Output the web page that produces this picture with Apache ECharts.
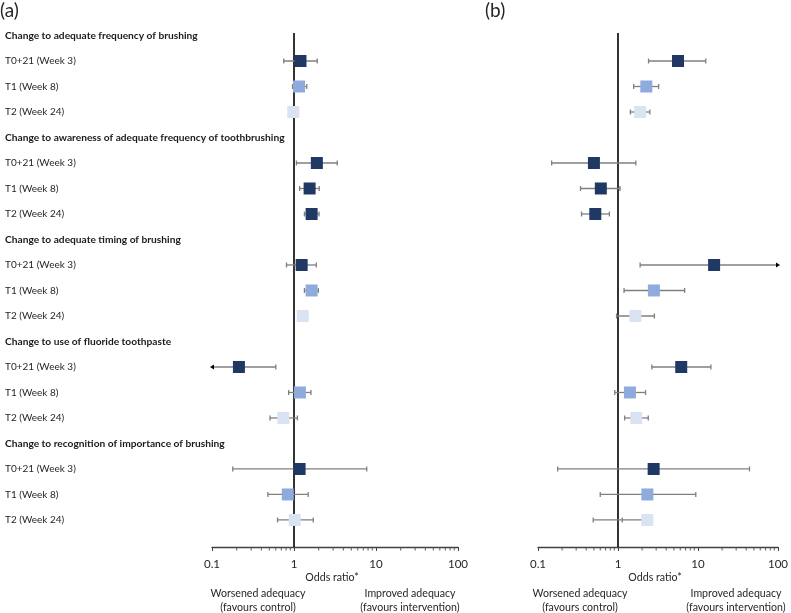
<!DOCTYPE html>
<html>
<head>
<meta charset="utf-8">
<script src="https://cdn.jsdelivr.net/npm/echarts@6/dist/echarts.min.js"></script>
<style>
html,body{margin:0;padding:0;background:#fff;}
#chart{width:791px;height:613px;}
</style>
</head>
<body>
<div id="chart"></div>
<script>
// ---------------- data ----------------
var outcomes = [
  'Change to adequate frequency of brushing',
  'Change to awareness of adequate frequency of toothbrushing',
  'Change to adequate timing of brushing',
  'Change to use of fluoride toothpaste',
  'Change to recognition of importance of brushing'
];
var timepoints = ['T0+21 (Week 3)', 'T1 (Week 8)', 'T2 (Week 24)'];

// panel (a): odds ratios and 95% CI, order = outcome x timepoint
var orA = [1.20, 1.15, 0.98,  1.90, 1.55, 1.64,  1.24, 1.64, 1.28,  0.213, 1.18, 0.74,  1.17, 0.84, 1.02];
var loA = [0.75, 0.96, 0.90,  1.07, 1.17, 1.34,  0.81, 1.34, 1.20,  0.10,  0.86, 0.51,  0.179, 0.48, 0.63];
var hiA = [1.92, 1.43, 1.06,  3.37, 2.03, 2.02,  1.87, 1.98, 1.36,  0.60,  1.61, 1.10,  7.71, 1.49, 1.72];
var arrowA = [0,0,0, 0,0,0, 0,0,0, -1,0,0, 0,0,0];

// panel (b)
var orB = [5.62, 2.26, 1.90,  0.50, 0.61, 0.52,  15.9, 2.81, 1.65,  6.17, 1.41, 1.69,  2.79, 2.33, 2.32];
var loB = [2.41, 1.57, 1.43,  0.148, 0.34, 0.35, 1.89, 1.19, 0.96,  2.65, 0.91, 1.21,  0.176, 0.60, 0.49];
var hiB = [12.5, 3.22, 2.50,  1.67, 1.06, 0.78,  100, 6.81, 2.85,   14.5, 2.21, 2.39,  44.0, 9.38, 1.13];
var arrowB = [0,0,0, 0,0,0, 1,0,0, 0,0,0, 0,0,0];

// colour shade per row (0 dark, 1 medium, 2 light)
var shade = [0,1,2, 0,0,0, 0,1,2, 0,1,2, 0,1,2];
var shadeColors = ['#203864', '#8faadc', '#dae3f3'];

var xTicks = [0.1, 1, 10, 100];
var minorTicks = [0.2,0.3,0.4,0.5,0.6,0.7,0.8,0.9, 2,3,4,5,6,7,8,9, 20,30,40,50,60,70,80,90];

// ---------------- build ----------------
var rowLabels = [];
var rowIsHeader = [];
var pointRow = [];
outcomes.forEach(function (o) {
  rowLabels.push(o); rowIsHeader.push(true);
  timepoints.forEach(function (t) {
    pointRow.push(rowLabels.length);
    rowLabels.push(t); rowIsHeader.push(false);
  });
});
var YMIN = -1, YMAX = 20.06;

function pts(or) {
  return or.map(function (v, i) { return [v, pointRow[i], shade[i]]; });
}
function bars(or, lo, hi, arr) {
  return or.map(function (v, i) { return [lo[i], pointRow[i], hi[i], v, arr[i]]; });
}

function errRender(params, api) {
  var lo = api.value(0), r = api.value(1), hi = api.value(2), est = api.value(3), arr = api.value(4);
  var pLo = api.coord([lo, r]);
  var pHi = api.coord([hi, r]);
  var pE = api.coord([est, r]);
  var x1 = Math.min(pLo[0], pE[0]), x2 = Math.max(pHi[0], pE[0]);
  var y = pLo[1];
  var st = {stroke: '#7f7f7f', lineWidth: 1.3};
  var ch = [
    {type: 'line', shape: {x1: x1, y1: y, x2: x2, y2: y}, style: st}
  ];
  if (arr !== -1) ch.push({type: 'line', shape: {x1: pLo[0], y1: y - 2.5, x2: pLo[0], y2: y + 2.5}, style: st});
  if (arr !== 1) ch.push({type: 'line', shape: {x1: pHi[0], y1: y - 2.5, x2: pHi[0], y2: y + 2.5}, style: st});
  if (arr === -1) ch.push({type: 'polygon', shape: {points: [[pLo[0] - 2, y], [pLo[0] + 2, y - 2.5], [pLo[0] + 2, y + 2.5]]}, style: {fill: '#000'}});
  if (arr === 1) ch.push({type: 'polygon', shape: {points: [[pHi[0] + 2, y], [pHi[0] - 2, y - 2.5], [pHi[0] - 2, y + 2.5]]}, style: {fill: '#000'}});
  return {type: 'group', children: ch};
}

var FONT = 'Lato';
function xAxisDef(idx) {
  return {
    type: 'log', logBase: 10, min: 0.1, max: 100, gridIndex: idx,
    axisLine: {show: true, onZero: false, lineStyle: {color: '#404040', width: 1.3}},
    axisTick: {show: true, length: 4, lineStyle: {color: '#404040'}},
    splitLine: {show: false},
    axisLabel: {margin: 11, fontSize: 11.5, fontFamily: FONT, color: '#262626',
      formatter: function (v) { var n = +(+v).toPrecision(3); return xTicks.indexOf(n) >= 0 ? String(n) : ''; }}
  };
}
function yAxisDef(idx, showLabels) {
  return {
    type: 'value', inverse: true, min: YMIN, max: YMAX, interval: 1, gridIndex: idx,
    axisLine: {show: false}, axisTick: {show: false}, splitLine: {show: false},
    axisLabel: {
      show: showLabels, align: 'left', margin: 207, fontFamily: FONT, fontSize: 10, color: '#262626',
      showMaxLabel: false,
      formatter: function (v) {
        if (v < 0 || v > 19 || Math.round(v) !== v) return '';
        return rowIsHeader[v] ? '{h|' + rowLabels[v] + '}' : rowLabels[v];
      },
      rich: {h: {fontWeight: 'bold', fontFamily: FONT, fontSize: 10.2, color: '#1a1a1a'}}
    }
  };
}

function panelSeries(idx, or, lo, hi, arr) {
  return [
    {type: 'line', xAxisIndex: idx, yAxisIndex: idx, data: [[1, -0.1], [1, YMAX]], symbol: 'none',
      lineStyle: {color: '#000', width: 1.6}, z: 2, silent: true, animation: false},
    {type: 'scatter', xAxisIndex: idx, yAxisIndex: idx, clip: false,
      data: minorTicks.map(function (v) { return [v, YMAX]; }),
      symbol: 'rect', symbolSize: [1, 3], symbolOffset: [0, 2],
      itemStyle: {color: '#595959', opacity: 1}, z: 2, silent: true, animation: false},
    {type: 'custom', xAxisIndex: idx, yAxisIndex: idx, clip: false, data: bars(or, lo, hi, arr),
      renderItem: errRender, z: 3, silent: true, animation: false},
    {type: 'scatter', xAxisIndex: idx, yAxisIndex: idx, data: pts(or), symbol: 'rect', symbolSize: 12,
      itemStyle: {opacity: 1, color: function (p) { return shadeColors[p.data[2]]; }}, z: 4, animation: false}
  ];
}

var chart = echarts.init(document.getElementById('chart'));
var txt = function (x, y, s, size) {
  return {type: 'text', x: x, y: y, style: {text: s, fill: '#262626', font: (size || 10.6) + 'px ' + FONT, textAlign: 'center', textVerticalAlign: 'middle'}};
};
chart.setOption({
  backgroundColor: '#fff',
  animation: false,
  grid: [
    {left: 212, width: 246, top: 10, height: 537},
    {left: 538, width: 245, top: 10, height: 537}
  ],
  xAxis: [xAxisDef(0), xAxisDef(1)],
  yAxis: [yAxisDef(0, true), yAxisDef(1, false)],
  series: panelSeries(0, orA, loA, hiA, arrowA).concat(panelSeries(1, orB, loB, hiB, arrowB)),
  graphic: [
    {type: 'text', x: 0, y: 1, style: {text: '(a)', fill: '#262626', font: '19px ' + FONT}},
    {type: 'text', x: 485, y: 1, style: {text: '(b)', fill: '#262626', font: '19px ' + FONT}},
    txt(332, 578, 'Odds ratio*'),
    txt(655, 578, 'Odds ratio*'),
    txt(258, 594, 'Worsened adequacy'),
    txt(258, 608, '(favours control)'),
    txt(410, 594, 'Improved adequacy'),
    txt(410, 608, '(favours intervention)'),
    txt(580, 594, 'Worsened adequacy'),
    txt(580, 608, '(favours control)'),
    txt(736, 594, 'Improved adequacy'),
    txt(736, 608, '(favours intervention)')
  ]
});
</script>
</body>
</html>
